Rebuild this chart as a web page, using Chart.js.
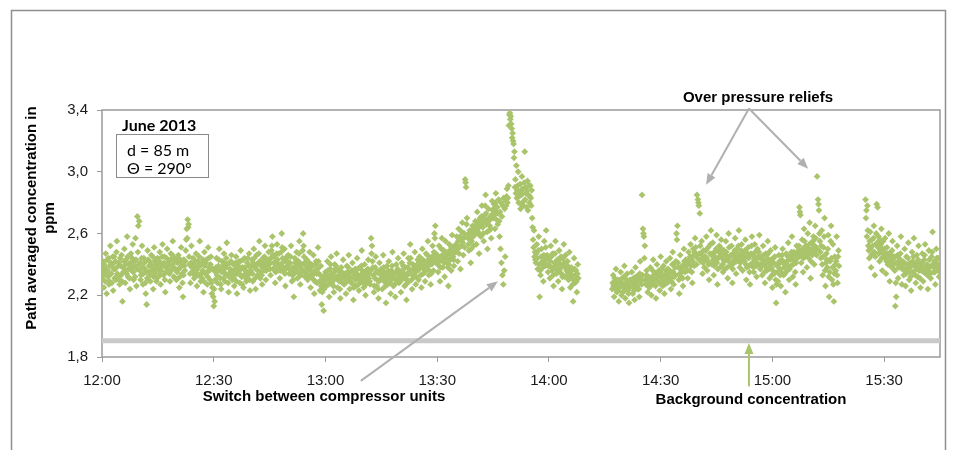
<!DOCTYPE html>
<html>
<head>
<meta charset="utf-8">
<title>Path averaged concentration, June 2013</title>
<script src="https://cdn.jsdelivr.net/npm/chart.js@4.4.1/dist/chart.umd.min.js"></script>
<style>
  html, body { margin: 0; padding: 0; background: #fff; }
  canvas { display: block; }
</style>
</head>
<body>
<canvas id="ppmChart" width="954" height="450"></canvas>
<script>
// Open-path readings every 7.5 s, three runs separated by gaps (ppm)
const segmentStarts = ['12:00', '14:17', '15:25'];
const stepSeconds = 7.5;

const ppmRun1 = [
    2.31, 2.36, 2.42, 2.33, 2.25, 2.40, 2.38, 2.29, 2.47, 2.35, 2.21, 2.43, 2.36, 2.32, 2.44, 2.27, 2.29, 2.39, 2.52, 2.41, 2.34, 2.28, 2.40, 2.45, 2.23, 2.37, 2.45, 2.31, 2.37, 2.42, 2.30, 2.48, 2.55, 2.34, 2.33, 2.39, 2.41, 2.30, 2.27, 2.44,
    2.39, 2.33, 2.46, 2.29, 2.16, 2.38, 2.35, 2.42, 2.50, 2.36, 2.28, 2.40, 2.43, 2.34, 2.58, 2.45, 2.32, 2.37, 2.40, 2.31, 2.24, 2.41, 2.47, 2.38, 2.36, 2.44, 2.53, 2.35, 2.30, 2.39, 2.42, 2.32, 2.57, 2.43, 2.26, 2.37, 2.71, 2.48, 2.65, 2.40,
    2.68, 2.36, 2.41, 2.30, 2.33, 2.44, 2.52, 2.38, 2.27, 2.34, 2.44, 2.41, 2.37, 2.28, 2.21, 2.35, 2.14, 2.31, 2.49, 2.43, 2.35, 2.39, 2.42, 2.33, 2.29, 2.40, 2.46, 2.36, 2.38, 2.45, 2.24, 2.32, 2.51, 2.42, 2.34, 2.37, 2.40, 2.29, 2.31, 2.44,
    2.43, 2.38, 2.36, 2.42, 2.48, 2.33, 2.27, 2.36, 2.40, 2.45, 2.53, 2.39, 2.33, 2.41, 2.45, 2.30, 2.22, 2.35, 2.38, 2.44, 2.50, 2.37, 2.35, 2.40, 2.42, 2.34, 2.29, 2.43, 2.47, 2.36, 2.39, 2.46, 2.55, 2.38, 2.32, 2.41, 2.44, 2.31, 2.37, 2.42,
    2.30, 2.35, 2.41, 2.44, 2.46, 2.37, 2.25, 2.32, 2.38, 2.43, 2.51, 2.40, 2.34, 2.28, 2.19, 2.33, 2.43, 2.39, 2.36, 2.42, 2.49, 2.56, 2.63, 2.57, 2.69, 2.64, 2.66, 2.45, 2.40, 2.34, 2.28, 2.41, 2.52, 2.38, 2.35, 2.40, 2.44, 2.36, 2.31, 2.33,
    2.39, 2.42, 2.47, 2.36, 2.26, 2.33, 2.42, 2.38, 2.33, 2.45, 2.55, 2.40, 2.29, 2.34, 2.40, 2.31, 2.36, 2.43, 2.22, 2.29, 2.48, 2.39, 2.34, 2.41, 2.43, 2.35, 2.27, 2.32, 2.51, 2.44, 2.38, 2.36, 2.30, 2.40, 2.45, 2.28, 2.21, 2.25, 2.37, 2.19,
    2.13, 2.24, 2.16, 2.30, 2.35, 2.38, 2.44, 2.33, 2.28, 2.36, 2.39, 2.43, 2.50, 2.37, 2.31, 2.27, 2.24, 2.35, 2.42, 2.39, 2.36, 2.31, 2.47, 2.41, 2.29, 2.34, 2.38, 2.44, 2.54, 2.40, 2.33, 2.28, 2.22, 2.32, 2.41, 2.37, 2.35, 2.42, 2.46, 2.33,
    2.30, 2.35, 2.40, 2.31, 2.26, 2.33, 2.37, 2.41, 2.45, 2.29, 2.21, 2.36, 2.34, 2.39, 2.42, 2.34, 2.28, 2.42, 2.49, 2.37, 2.32, 2.27, 2.38, 2.43, 2.25, 2.33, 2.44, 2.38, 2.36, 2.31, 2.29, 2.35, 2.41, 2.44, 2.33, 2.39, 2.47, 2.30, 2.23, 2.36,
    2.35, 2.39, 2.43, 2.34, 2.29, 2.41, 2.50, 2.44, 2.38, 2.31, 2.24, 2.37, 2.46, 2.40, 2.33, 2.36, 2.41, 2.47, 2.55, 2.42, 2.31, 2.35, 2.39, 2.33, 2.27, 2.38, 2.44, 2.41, 2.36, 2.45, 2.52, 2.40, 2.30, 2.36, 2.42, 2.39, 2.37, 2.43, 2.48, 2.40,
    2.41, 2.37, 2.33, 2.44, 2.49, 2.52, 2.58, 2.46, 2.37, 2.41, 2.45, 2.38, 2.28, 2.35, 2.42, 2.47, 2.53, 2.43, 2.36, 2.40, 2.47, 2.39, 2.31, 2.36, 2.40, 2.48, 2.60, 2.51, 2.44, 2.38, 2.35, 2.42, 2.50, 2.34, 2.26, 2.37, 2.43, 2.45, 2.39, 2.41,
    2.46, 2.40, 2.34, 2.37, 2.41, 2.45, 2.52, 2.36, 2.29, 2.33, 2.38, 2.30, 2.19, 2.34, 2.44, 2.41, 2.36, 2.43, 2.48, 2.39, 2.31, 2.35, 2.42, 2.47, 2.55, 2.38, 2.27, 2.33, 2.40, 2.37, 2.35, 2.49, 2.60, 2.52, 2.45, 2.41, 2.32, 2.36, 2.39, 2.34,
    2.43, 2.36, 2.30, 2.33, 2.37, 2.41, 2.48, 2.38, 2.25, 2.32, 2.40, 2.35, 2.33, 2.39, 2.46, 2.30, 2.21, 2.29, 2.36, 2.40, 2.42, 2.34, 2.28, 2.37, 2.51, 2.42, 2.34, 2.29, 2.23, 2.33, 2.39, 2.26, 2.14, 2.22, 2.31, 2.28, 2.10, 2.24, 2.27, 2.33,
    2.35, 2.30, 2.26, 2.33, 2.42, 2.36, 2.30, 2.27, 2.19, 2.31, 2.37, 2.40, 2.45, 2.34, 2.28, 2.29, 2.33, 2.26, 2.22, 2.35, 2.40, 2.37, 2.31, 2.39, 2.47, 2.32, 2.25, 2.30, 2.36, 2.33, 2.29, 2.24, 2.18, 2.31, 2.38, 2.35, 2.32, 2.28, 2.43, 2.34,
    2.27, 2.31, 2.34, 2.28, 2.21, 2.33, 2.39, 2.35, 2.30, 2.38, 2.46, 2.32, 2.24, 2.29, 2.35, 2.31, 2.28, 2.36, 2.41, 2.27, 2.17, 2.25, 2.33, 2.35, 2.37, 2.30, 2.26, 2.34, 2.44, 2.37, 2.31, 2.27, 2.23, 2.32, 2.38, 2.33, 2.29, 2.39, 2.49, 2.36,
    2.32, 2.28, 2.25, 2.34, 2.40, 2.30, 2.20, 2.27, 2.36, 2.33, 2.29, 2.37, 2.43, 2.31, 2.34, 2.29, 2.27, 2.36, 2.57, 2.47, 2.52, 2.42, 2.38, 2.33, 2.22, 2.26, 2.31, 2.38, 2.45, 2.35, 2.26, 2.30, 2.35, 2.24, 2.18, 2.29, 2.41, 2.36, 2.30, 2.33,
    2.37, 2.31, 2.24, 2.33, 2.46, 2.38, 2.29, 2.35, 2.33, 2.26, 2.15, 2.30, 2.39, 2.32, 2.27, 2.36, 2.42, 2.34, 2.31, 2.28, 2.21, 2.30, 2.36, 2.39, 2.48, 2.33, 2.26, 2.31, 2.34, 2.27, 2.19, 2.30, 2.40, 2.35, 2.30, 2.37, 2.44, 2.32, 2.28, 2.34,
    2.35, 2.29, 2.22, 2.33, 2.41, 2.36, 2.31, 2.39, 2.47, 2.34, 2.26, 2.31, 2.38, 2.27, 2.17, 2.30, 2.33, 2.38, 2.44, 2.35, 2.29, 2.41, 2.53, 2.44, 2.36, 2.30, 2.24, 2.33, 2.40, 2.37, 2.32, 2.39, 2.48, 2.35, 2.27, 2.32, 2.37, 2.40, 2.43, 2.36,
    2.30, 2.38, 2.45, 2.41, 2.38, 2.33, 2.25, 2.39, 2.50, 2.43, 2.34, 2.37, 2.42, 2.35, 2.29, 2.40, 2.47, 2.42, 2.37, 2.46, 2.55, 2.39, 2.33, 2.36, 2.44, 2.41, 2.27, 2.34, 2.40, 2.45, 2.52, 2.43, 2.36, 2.48, 2.60, 2.57, 2.65, 2.47, 2.41, 2.44,
    2.46, 2.40, 2.35, 2.44, 2.52, 2.42, 2.29, 2.38, 2.44, 2.50, 2.57, 2.46, 2.38, 2.43, 2.49, 2.41, 2.32, 2.45, 2.55, 2.48, 2.41, 2.44, 2.47, 2.38, 2.26, 2.40, 2.53, 2.49, 2.43, 2.46, 2.36, 2.51, 2.59, 2.47, 2.45, 2.43, 2.39, 2.52, 2.50, 2.48,
    2.48, 2.53, 2.58, 2.50, 2.42, 2.55, 2.63, 2.47, 2.51, 2.58, 2.37, 2.52, 2.56, 2.61, 2.67, 2.54, 2.46, 2.57, 2.60, 2.51, 2.95, 2.93, 2.90, 2.66, 2.70, 2.59, 2.57, 2.53, 2.49, 2.60, 2.62, 2.56, 2.41, 2.50, 2.55, 2.61, 2.65, 2.58, 2.52, 2.63,
    2.59, 2.64, 2.68, 2.60, 2.53, 2.66, 2.74, 2.63, 2.61, 2.68, 2.47, 2.59, 2.70, 2.65, 2.58, 2.71, 2.78, 2.67, 2.64, 2.60, 2.55, 2.69, 2.72, 2.78, 2.85, 2.73, 2.66, 2.61, 2.50, 2.68, 2.76, 2.70, 2.62, 2.65, 2.69, 2.63, 2.57, 2.72, 2.81, 2.75,
    2.70, 2.76, 2.79, 2.72, 2.63, 2.80, 2.86, 2.69, 2.74, 2.77, 2.66, 2.73, 2.82, 2.68, 2.58, 2.74, 2.50, 2.80, 2.41, 2.71, 2.33, 2.78, 2.27, 2.83, 2.36, 2.76, 2.45, 2.81, 2.78, 2.84, 2.89, 2.80, 2.83, 2.91, 3.30, 3.37, 3.38, 3.34, 3.36, 3.31,
    3.28, 3.22, 3.25, 3.20, 3.18, 3.09, 3.13, 2.90, 2.95, 2.86, 3.04, 2.83, 2.88, 2.91, 3.00, 2.80, 2.84, 2.87, 2.92, 2.76, 2.79, 2.85, 2.97, 2.89, 2.86, 2.78, 2.81, 2.93, 3.13, 2.82, 2.90, 2.86, 2.77, 2.88, 2.94, 2.75, 2.85, 2.91, 2.80, 2.84,
    2.91, 2.83, 2.78, 2.88, 2.70, 2.64, 2.56, 2.51, 2.62, 2.45, 2.48, 2.43, 2.41, 2.47, 2.53, 2.44, 2.37, 2.49, 2.58, 2.40, 2.19, 2.36, 2.33, 2.45, 2.50, 2.41, 2.42, 2.38, 2.29, 2.46, 2.55, 2.43, 2.39, 2.51, 2.62, 2.40, 2.46, 2.44, 2.35, 2.39,
    2.44, 2.39, 2.31, 2.42, 2.52, 2.45, 2.38, 2.36, 2.47, 2.33, 2.26, 2.38, 2.41, 2.47, 2.55, 2.40, 2.34, 2.37, 2.43, 2.35, 2.29, 2.41, 2.49, 2.43, 2.37, 2.39, 2.45, 2.34, 2.24, 2.32, 2.40, 2.44, 2.53, 2.41, 2.32, 2.38, 2.46, 2.40, 2.36, 2.33,
    2.42, 2.35, 2.30, 2.38, 2.48, 2.34, 2.25, 2.31, 2.38, 2.36, 2.33, 2.27, 2.16, 2.30, 2.44, 2.37, 2.28, 2.33, 2.36, 2.29, 2.22, 2.34, 2.40, 2.31
];

const ppmRun2 = [
    2.24, 2.28, 2.33, 2.26, 2.19, 2.31, 2.29, 2.24, 2.37, 2.27, 2.22, 2.29, 2.30, 2.23, 2.16, 2.25, 2.27, 2.30, 2.35, 2.26, 2.20, 2.28, 2.31, 2.22, 2.25, 2.32, 2.39, 2.27, 2.18, 2.24, 2.28, 2.30, 2.34, 2.26, 2.23, 2.21, 2.15, 2.25, 2.30, 2.28,
    2.26, 2.30, 2.35, 2.27, 2.21, 2.25, 2.31, 2.23, 2.17, 2.29, 2.38, 2.32, 2.28, 2.26, 2.24, 2.30, 2.33, 2.24, 2.19, 2.34, 2.42, 2.31, 2.29, 2.27, 2.85, 2.33, 2.63, 2.60, 2.58, 2.44, 2.52, 2.30, 2.27, 2.33, 2.36, 2.28, 2.22, 2.26, 2.32, 2.29,
    2.25, 2.31, 2.38, 2.29, 2.20, 2.27, 2.32, 2.36, 2.43, 2.33, 2.27, 2.30, 2.34, 2.26, 2.18, 2.31, 2.40, 2.34, 2.29, 2.32, 2.36, 2.28, 2.23, 2.35, 2.45, 2.37, 2.31, 2.29, 2.26, 2.33, 2.39, 2.30, 2.21, 2.27, 2.33, 2.36, 2.42, 2.34, 2.28, 2.32,
    2.37, 2.33, 2.30, 2.36, 2.44, 2.31, 2.24, 2.29, 2.35, 2.40, 2.48, 2.35, 2.27, 2.32, 2.41, 2.38, 2.33, 2.42, 2.60, 2.56, 2.65, 2.41, 2.38, 2.30, 2.21, 2.34, 2.46, 2.37, 2.32, 2.35, 2.39, 2.31, 2.26, 2.39, 2.50, 2.42, 2.35, 2.38, 2.43, 2.36,
    2.40, 2.36, 2.31, 2.41, 2.48, 2.43, 2.36, 2.45, 2.53, 2.39, 2.44, 2.35, 2.28, 2.42, 2.50, 2.46, 2.39, 2.48, 2.57, 2.51, 2.46, 2.40, 2.85, 2.44, 2.82, 2.80, 2.78, 2.47, 2.73, 2.52, 2.42, 2.47, 2.55, 2.44, 2.34, 2.41, 2.49, 2.43, 2.38, 2.45,
    2.45, 2.49, 2.58, 2.44, 2.36, 2.42, 2.51, 2.40, 2.30, 2.41, 2.47, 2.53, 2.62, 2.46, 2.40, 2.47, 2.54, 2.43, 2.33, 2.39, 2.48, 2.45, 2.42, 2.50, 2.59, 2.41, 2.27, 2.37, 2.44, 2.48, 2.52, 2.45, 2.38, 2.47, 2.56, 2.50, 2.46, 2.40, 2.35, 2.43,
    2.49, 2.42, 2.37, 2.46, 2.55, 2.48, 2.43, 2.38, 2.31, 2.44, 2.60, 2.51, 2.45, 2.41, 2.39, 2.46, 2.52, 2.40, 2.28, 2.37, 2.47, 2.43, 2.41, 2.49, 2.57, 2.45, 2.34, 2.42, 2.50, 2.47, 2.44, 2.52, 2.62, 2.44, 2.38, 2.41, 2.46, 2.49, 2.53, 2.45,
    2.36, 2.43, 2.48, 2.45, 2.42, 2.49, 2.56, 2.40, 2.30, 2.38, 2.45, 2.47, 2.51, 2.44, 2.39, 2.35, 2.27, 2.40, 2.47, 2.52, 2.58, 2.46, 2.41, 2.38, 2.35, 2.43, 2.53, 2.48, 2.44, 2.39, 2.32, 2.41, 2.50, 2.45, 2.40, 2.48, 2.59, 2.44, 2.37, 2.40,
    2.45, 2.39, 2.33, 2.43, 2.52, 2.46, 2.40, 2.35, 2.28, 2.41, 2.47, 2.38, 2.36, 2.44, 2.55, 2.47, 2.42, 2.37, 2.31, 2.40, 2.49, 2.43, 2.38, 2.33, 2.25, 2.36, 2.44, 2.41, 2.34, 2.45, 2.51, 2.30, 2.15, 2.27, 2.39, 2.35, 2.29, 2.40, 2.46, 2.42,
    2.37, 2.33, 2.26, 2.35, 2.43, 2.46, 2.50, 2.41, 2.33, 2.38, 2.41, 2.34, 2.22, 2.40, 2.47, 2.42, 2.36, 2.45, 2.54, 2.39, 2.30, 2.37, 2.45, 2.43, 2.39, 2.48, 2.58, 2.44, 2.32, 2.40, 2.48, 2.46, 2.42, 2.35, 2.27, 2.41, 2.52, 2.47, 2.44, 2.46,
    2.49, 2.52, 2.77, 2.74, 2.72, 2.48, 2.41, 2.45, 2.56, 2.50, 2.35, 2.44, 2.63, 2.55, 2.47, 2.49, 2.52, 2.46, 2.38, 2.51, 2.60, 2.47, 2.44, 2.53, 2.67, 2.49, 2.31, 2.42, 2.54, 2.50, 2.46, 2.55, 2.58, 2.48, 2.40, 2.52, 2.65, 2.57, 2.50, 2.46,
    2.97, 2.50, 2.82, 2.79, 2.75, 2.60, 2.55, 2.48, 2.44, 2.52, 2.62, 2.40, 2.33, 2.45, 2.51, 2.58, 2.70, 2.36, 2.26, 2.41, 2.47, 2.43, 2.38, 2.50, 2.59, 2.32, 2.19, 2.35, 2.42, 2.55, 2.65, 2.44, 2.30, 2.38, 2.53, 2.27, 2.16, 2.34, 2.45, 2.40,
    2.36, 2.42, 2.58, 2.33, 2.28, 2.45, 2.49, 2.39
];

const ppmRun3 = [
    2.82, 2.70, 2.75, 2.58, 2.78, 2.62, 2.52, 2.49, 2.44, 2.55, 2.61, 2.50, 2.38, 2.46, 2.56, 2.52, 2.47, 2.57, 2.65, 2.48, 2.33, 2.45, 2.53, 2.60, 2.79, 2.54, 2.77, 2.51, 2.58, 2.47, 2.42, 2.56, 2.49, 2.53, 2.63, 2.44, 2.36, 2.50, 2.55, 2.48,
    2.46, 2.50, 2.57, 2.44, 2.34, 2.42, 2.51, 2.47, 2.40, 2.45, 2.60, 2.41, 2.29, 2.39, 2.48, 2.46, 2.43, 2.49, 2.55, 2.43, 2.37, 2.40, 2.45, 2.36, 2.13, 2.28, 2.19, 2.41, 2.52, 2.46, 2.31, 2.38, 2.44, 2.42, 2.39, 2.47, 2.58, 2.40, 2.27, 2.37,
    2.42, 2.38, 2.33, 2.41, 2.50, 2.36, 2.26, 2.34, 2.45, 2.40, 2.37, 2.44, 2.54, 2.37, 2.30, 2.35, 2.41, 2.32, 2.23, 2.39, 2.48, 2.42, 2.35, 2.45, 2.57, 2.41, 2.39, 2.33, 2.28, 2.37, 2.46, 2.40, 2.32, 2.43, 2.52, 2.36, 2.40, 2.31, 2.25, 2.38,
    2.36, 2.41, 2.47, 2.38, 2.29, 2.35, 2.43, 2.46, 2.53, 2.39, 2.34, 2.37, 2.40, 2.33, 2.24, 2.36, 2.49, 2.43, 2.38, 2.34, 2.31, 2.39, 2.45, 2.48, 2.61, 2.40, 2.35, 2.38, 2.42, 2.35, 2.27, 2.41, 2.50, 2.44, 2.37, 2.40, 2.44, 2.37, 2.32, 2.35
];

// Background concentration level
const backgroundTimes = ['12:00', '15:45'];
const backgroundPpm = [1.905, 1.905];

// Axis ticks
const timeTicks = ['12:00', '12:30', '13:00', '13:30', '14:00', '14:30', '15:00', '15:30'];
const timeRange = ['12:00', '15:45'];
const ppmTicks = [1.8, 2.2, 2.6, 3.0, 3.4];

const GREEN = '#a9c46a';
const ARROW_GREY = '#b0b0b0';
const FRAME_GREY = '#8f8f8f';

// minutes after 12:00
function toMinutes(hhmm) {
    const [h, m] = hhmm.split(':').map(Number);
    return (h - 12) * 60 + m;
}

function toClock(minutes) {
    const h = 12 + Math.floor(minutes / 60);
    const m = Math.round(minutes % 60);
    return h + ':' + String(m).padStart(2, '0');
}

function buildPoints() {
    const points = [];
    [ppmRun1, ppmRun2, ppmRun3].forEach((values, s) => {
        const t0 = toMinutes(segmentStarts[s]);
        values.forEach((v, i) => points.push({ x: t0 + i * stepSeconds / 60, y: v }));
    });
    return points;
}

// Arrows in data units: [minutes, ppm] -> [minutes, ppm]
const arrows = [
    { from: [173.7, 3.41], to: [162.2, 2.915], color: ARROW_GREY },
    { from: [173.7, 3.41], to: [189.6, 3.02], color: ARROW_GREY },
    { from: [69.5, 1.645], to: [106.3, 2.29], color: ARROW_GREY },
    { from: [173.7, 1.61], to: [173.7, 1.89], color: GREEN }
];

function drawArrow(ctx, x1, y1, x2, y2, color) {
    const ang = Math.atan2(y2 - y1, x2 - x1);
    const len = 11, half = 4.5;
    const bx = x2 - Math.cos(ang) * len;
    const by = y2 - Math.sin(ang) * len;
    ctx.strokeStyle = color;
    ctx.fillStyle = color;
    ctx.lineWidth = 2;
    ctx.beginPath();
    ctx.moveTo(x1, y1);
    ctx.lineTo(bx, by);
    ctx.stroke();
    ctx.beginPath();
    ctx.moveTo(x2, y2);
    ctx.lineTo(bx + Math.sin(ang) * half, by - Math.cos(ang) * half);
    ctx.lineTo(bx - Math.sin(ang) * half, by + Math.cos(ang) * half);
    ctx.closePath();
    ctx.fill();
}

// White page, outer frame and the box around the plot area
const framePlugin = {
    id: 'frame',
    beforeDraw(chart) {
        const ctx = chart.ctx;
        ctx.save();
        ctx.fillStyle = '#fff';
        ctx.fillRect(0, 0, chart.width, chart.height);
        ctx.strokeStyle = FRAME_GREY;
        ctx.lineWidth = 1.5;
        ctx.strokeRect(11.5, 10.5, 934, 460);
        ctx.restore();
    },
    beforeDatasetsDraw(chart) {
        const { ctx, chartArea: a } = chart;
        ctx.save();
        ctx.strokeStyle = '#9a9a9a';
        ctx.lineWidth = 1.5;
        ctx.strokeRect(a.left, a.top, a.right - a.left, a.bottom - a.top);
        ctx.restore();
    }
};

// Axis title, labels, arrows and the measurement info box
const notesPlugin = {
    id: 'notes',
    afterDraw(chart) {
        const { ctx, scales: { x, y } } = chart;
        ctx.save();
        arrows.forEach(a => {
            drawArrow(ctx,
                x.getPixelForValue(a.from[0]), y.getPixelForValue(a.from[1]),
                x.getPixelForValue(a.to[0]), y.getPixelForValue(a.to[1]), a.color);
        });

        ctx.fillStyle = '#000';
        ctx.textAlign = 'center';
        ctx.textBaseline = 'alphabetic';
        ctx.font = 'bold 15px "Liberation Sans", Arial, sans-serif';
        ctx.fillText('Over pressure reliefs', 758, 102);
        ctx.fillText('Switch between compressor units', 324, 401);
        ctx.fillText('Background concentration', 751, 404);

        // y axis title, two lines
        ctx.save();
        ctx.translate(0, 218);
        ctx.rotate(-Math.PI / 2);
        ctx.textBaseline = 'middle';
        ctx.fillText('Path averaged concentration in', 0, 32);
        ctx.fillText('ppm', 0, 50);
        ctx.restore();

        // info box
        ctx.textAlign = 'left';
        ctx.font = 'bold 16px Lato, "Open Sans", sans-serif';
        ctx.fillText('June 2013', 122, 131);
        ctx.strokeStyle = '#8a8a8a';
        ctx.lineWidth = 1;
        ctx.strokeRect(116.5, 134.5, 92, 43);
        ctx.font = '16px Lato, "Open Sans", sans-serif';
        ctx.fillText('d = 85 m', 127, 156);
        ctx.fillText('\u0398 = 290\u00b0', 127, 174);
        ctx.restore();
    }
};

const tickFont = { family: '"Liberation Sans", Arial, sans-serif', size: 15 };

new Chart(document.getElementById('ppmChart'), {
    type: 'scatter',
    data: {
        datasets: [
            {
                type: 'line',
                data: backgroundTimes.map((t, i) => ({ x: toMinutes(t), y: backgroundPpm[i] })),
                borderColor: '#c9c9c9',
                borderWidth: 5,
                pointRadius: 0,
                fill: false
            },
            {
                data: buildPoints(),
                pointStyle: 'rectRot',
                pointRadius: 3.4,
                pointBorderWidth: 0,
                backgroundColor: GREEN,
                borderColor: GREEN
            }
        ]
    },
    options: {
        responsive: false,
        animation: false,
        events: [],
        layout: { padding: { left: 0, right: 14, top: 110, bottom: 0 } },
        plugins: {
            legend: { display: false },
            tooltip: { enabled: false }
        },
        scales: {
            x: {
                type: 'linear',
                min: toMinutes(timeRange[0]),
                max: toMinutes(timeRange[1]),
                afterBuildTicks: scale => {
                    scale.ticks = timeTicks.map(t => ({ value: toMinutes(t) }));
                },
                afterFit: scale => { scale.height = 93; },
                ticks: {
                    callback: v => toClock(v),
                    font: tickFont,
                    color: '#1a1a1a',
                    padding: 10,
                    maxRotation: 0,
                    autoSkip: false
                },
                grid: { drawOnChartArea: false, drawTicks: true, tickLength: 5, color: '#9a9a9a' },
                border: { display: false }
            },
            y: {
                min: ppmTicks[0],
                max: ppmTicks[ppmTicks.length - 1],
                afterBuildTicks: scale => {
                    scale.ticks = ppmTicks.map(v => ({ value: v }));
                },
                afterFit: scale => { scale.width = 102; },
                ticks: {
                    callback: v => v.toFixed(1).replace('.', ','),
                    font: tickFont,
                    color: '#1a1a1a',
                    padding: 9
                },
                grid: { drawOnChartArea: false, drawTicks: true, tickLength: 5, color: '#9a9a9a' },
                border: { display: false }
            }
        }
    },
    plugins: [framePlugin, notesPlugin]
});
</script>
</body>
</html>
